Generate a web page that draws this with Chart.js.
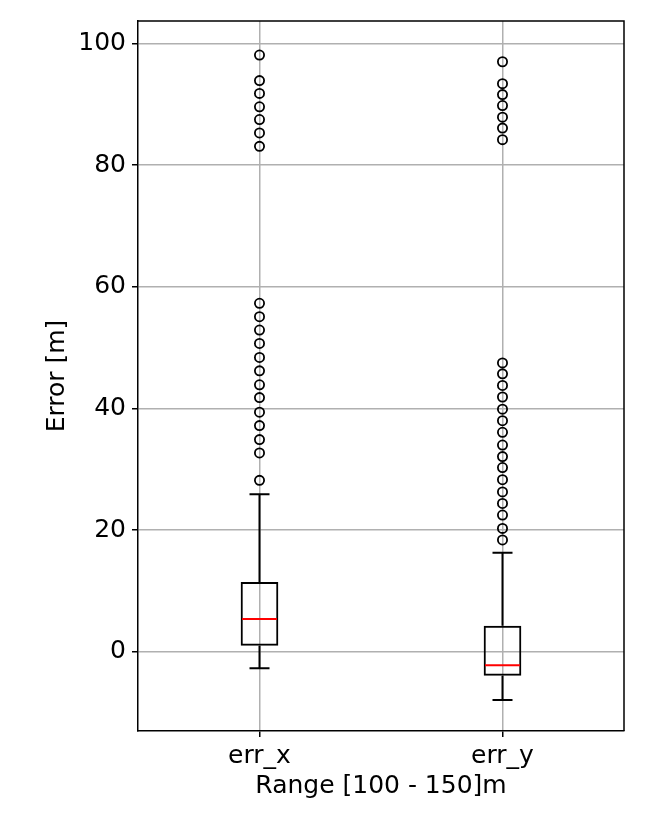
<!DOCTYPE html>
<html>
<head>
<meta charset="utf-8">
<script src="https://cdn.jsdelivr.net/npm/chart.js@4"></script>
<style>
    html, body { margin: 0; padding: 0; background: #fff; }
    #wrap { width: 648px; height: 834px; position: relative; }
</style>
</head>
<body>
<div id="wrap"><canvas id="boxChart"></canvas></div>
<script>
const categories = ['err_x', 'err_y'];

// box stats
const whiskerLow = [-2.7, -7.9];
const q1 = [1.0, -3.9];
const median = [5.4, -2.2];
const q3 = [11.5, 4.3];
const whiskerHigh = [25.9, 16.3];

// fliers
const outliersX = [98.1, 93.9, 91.8, 89.6, 87.5, 85.3, 83.1,
    57.3, 55.1, 52.9, 50.7, 48.4, 46.2, 43.9, 41.8, 39.4, 37.2, 34.9, 32.7, 28.2];
const outliersY = [97.0, 93.4, 91.6, 89.8, 87.9, 86.1, 84.2,
    47.5, 45.7, 43.8, 41.9, 39.9, 38.0, 36.1, 34.0, 32.1, 30.3, 28.3, 26.3, 24.4, 22.5, 20.3, 18.4];

const yTicks = [0, 20, 40, 60, 80, 100];
const yMin = -13.0;
const yMax = 103.7;

const FONT = 'DejaVu Sans';

const fliers = [];
outliersX.forEach(v => fliers.push({ x: 'err_x', y: v }));
outliersY.forEach(v => fliers.push({ x: 'err_y', y: v }));

// whiskers, caps and median lines, placed through the chart scales
const boxLines = {
    id: 'boxLines',
    afterDatasetsDraw(chart) {
        const ctx = chart.ctx;
        const xs = chart.scales.x;
        const ys = chart.scales.y;
        const boxHalf = 18.5;
        const capHalf = 10;
        ctx.save();
        ctx.lineWidth = 2;
        categories.forEach((c, i) => {
            const cx = xs.getPixelForValue(i);
            ctx.strokeStyle = '#000';
            ctx.beginPath();
            ctx.moveTo(cx, ys.getPixelForValue(q3[i]));
            ctx.lineTo(cx, ys.getPixelForValue(whiskerHigh[i]));
            ctx.moveTo(cx, ys.getPixelForValue(q1[i]));
            ctx.lineTo(cx, ys.getPixelForValue(whiskerLow[i]));
            ctx.moveTo(cx - capHalf, ys.getPixelForValue(whiskerHigh[i]));
            ctx.lineTo(cx + capHalf, ys.getPixelForValue(whiskerHigh[i]));
            ctx.moveTo(cx - capHalf, ys.getPixelForValue(whiskerLow[i]));
            ctx.lineTo(cx + capHalf, ys.getPixelForValue(whiskerLow[i]));
            ctx.stroke();
            ctx.strokeStyle = '#ff0000';
            ctx.beginPath();
            ctx.moveTo(cx - boxHalf + 1, ys.getPixelForValue(median[i]));
            ctx.lineTo(cx + boxHalf - 1, ys.getPixelForValue(median[i]));
            ctx.stroke();
        });
        // top and right spines
        const a = chart.chartArea;
        ctx.strokeStyle = '#000';
        ctx.lineWidth = 1.5;
        ctx.beginPath();
        ctx.moveTo(a.left, a.top);
        ctx.lineTo(a.right, a.top);
        ctx.lineTo(a.right, a.bottom);
        ctx.stroke();
        ctx.restore();
    }
};

const chart = new Chart(document.getElementById('boxChart'), {
    type: 'bar',
    data: {
        labels: categories,
        datasets: [{
            label: 'box',
            data: categories.map((c, i) => [q1[i], q3[i]]),
            backgroundColor: 'rgba(0,0,0,0)',
            borderColor: '#000',
            borderWidth: 2,
            borderSkipped: false,
            categoryPercentage: 1,
            barPercentage: 0.155
        }, {
            type: 'scatter',
            label: 'fliers',
            data: fliers,
            pointRadius: 4.6,
            pointBorderWidth: 1.8,
            pointBorderColor: '#000',
            pointBackgroundColor: 'rgba(0,0,0,0)'
        }]
    },
    options: {
        responsive: true,
        maintainAspectRatio: false,
        animation: false,
        layout: { padding: { left: 0, top: 20, right: 24, bottom: 0 } },
        plugins: { legend: { display: false }, tooltip: { enabled: false } },
        scales: {
            x: {
                type: 'category',
                offset: true,
                grid: { offset: false, color: '#b0b0b0', lineWidth: 1.5, tickColor: '#000', tickLength: 6 },
                border: { color: '#000', width: 1.5 },
                ticks: { color: '#000', padding: 4, font: { family: FONT, size: 25 } },
                title: {
                    display: true, text: 'Range [100 - 150]m', color: '#000',
                    font: { family: FONT, size: 25 }, padding: { top: 0, bottom: 33 }
                },
                afterFit: s => { s.height = 103; }
            },
            y: {
                min: yMin,
                max: yMax,
                grid: { color: '#b0b0b0', lineWidth: 1.5, tickColor: '#000', tickLength: 6 },
                border: { color: '#000', width: 1.5 },
                ticks: { color: '#000', padding: 6, font: { family: FONT, size: 25 } },
                afterBuildTicks: s => { s.ticks = yTicks.map(v => ({ value: v })); },
                title: {
                    display: true, text: 'Error [m]', color: '#000',
                    font: { family: FONT, size: 25 }, padding: { top: 42, bottom: 0 }
                },
                afterFit: s => { s.width = 138; }
            }
        }
    },
    plugins: [boxLines]
});
</script>
</body>
</html>
